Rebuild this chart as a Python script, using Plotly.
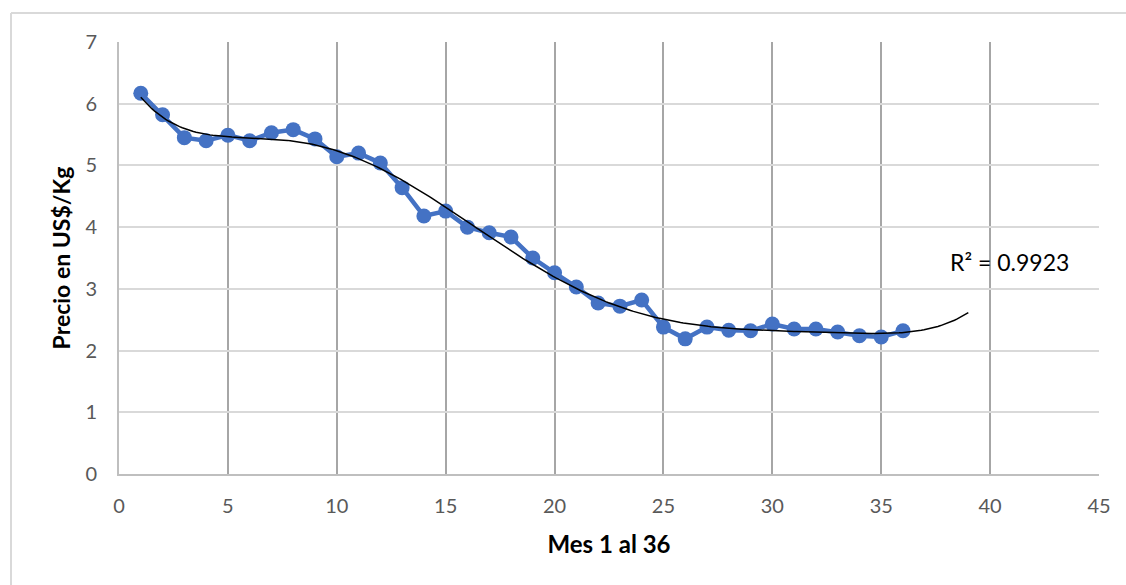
import numpy as np
import plotly.graph_objects as go

# Monthly price series (US$/Kg), months 1..36
months = list(range(1, 37))
prices = [6.17, 5.82, 5.45, 5.40, 5.49, 5.40, 5.53, 5.58, 5.43, 5.14,
          5.20, 5.04, 4.64, 4.18, 4.26, 4.00, 3.91, 3.84, 3.50, 3.26,
          3.03, 2.77, 2.72, 2.82, 2.38, 2.19, 2.38, 2.33, 2.32, 2.43,
          2.35, 2.35, 2.30, 2.24, 2.22, 2.32]

x_ticks = [0, 5, 10, 15, 20, 25, 30, 35, 40, 45]
y_ticks = [0, 1, 2, 3, 4, 5, 6, 7]
r2_label = "R² = 0.9923"

# 6th-order polynomial trendline, projected 3 periods forward
coef = np.polyfit(months, prices, 6)
trend_x = np.linspace(1, 39, 300)
trend_y = np.polyval(coef, trend_x)

BLUE = "#4472C4"
FONT = "Lato"

fig = go.Figure()
fig.add_trace(go.Scatter(
    x=months, y=prices, mode="lines+markers",
    line=dict(color=BLUE, width=4.5),
    marker=dict(color=BLUE, size=15),
    showlegend=False, hoverinfo="x+y",
))
fig.add_trace(go.Scatter(
    x=trend_x, y=trend_y, mode="lines",
    line=dict(color="#000000", width=1.5),
    showlegend=False, hoverinfo="skip",
))

# R² label next to the trendline
fig.add_annotation(
    x=38.06, y=3.44, xref="x", yref="y",
    text=r2_label, showarrow=False,
    xanchor="left", yanchor="middle",
    font=dict(family=FONT, size=23, color="#000000"),
)

# chart area frame (top and left edges)
frame = "#d9d9d9"
fig.add_shape(type="line", xref="paper", yref="paper",
              x0=-0.1102, x1=1.05, y0=1.0671, y1=1.0671,
              line=dict(color=frame, width=2))
fig.add_shape(type="line", xref="paper", yref="paper",
              x0=-0.1102, x1=-0.1102, y0=1.0671, y1=-0.3,
              line=dict(color=frame, width=2))

fig.update_layout(
    width=1126, height=585,
    margin=dict(l=119, r=27, t=42, b=111),
    paper_bgcolor="white", plot_bgcolor="white",
    font=dict(family=FONT),
)
fig.update_xaxes(
    range=[0, 45], tickvals=x_ticks, ticktext=[str(v) for v in x_ticks],
    showgrid=True, gridcolor="#a6a6a6", gridwidth=1.5,
    showline=True, linecolor="#bfbfbf", linewidth=2,
    zeroline=False, ticks="", ticklabelstandoff=13,
    tickfont=dict(family=FONT, size=20, color="#595959"),
    title=dict(text="<b>Mes 1 al 36</b>", standoff=20,
               font=dict(family=FONT, size=24, color="#000000")),
)
fig.update_yaxes(
    range=[0, 7], tickvals=y_ticks, ticktext=[str(v) for v in y_ticks],
    showgrid=True, gridcolor="#d9d9d9", gridwidth=2,
    showline=True, linecolor="#bfbfbf", linewidth=2,
    zeroline=False, ticks="", ticklabelstandoff=16,
    tickfont=dict(family=FONT, size=20, color="#595959"),
    title=dict(text="<b>Precio en US$/Kg</b>", standoff=8,
               font=dict(family=FONT, size=23, color="#000000")),
)

fig.write_html("out.html")
